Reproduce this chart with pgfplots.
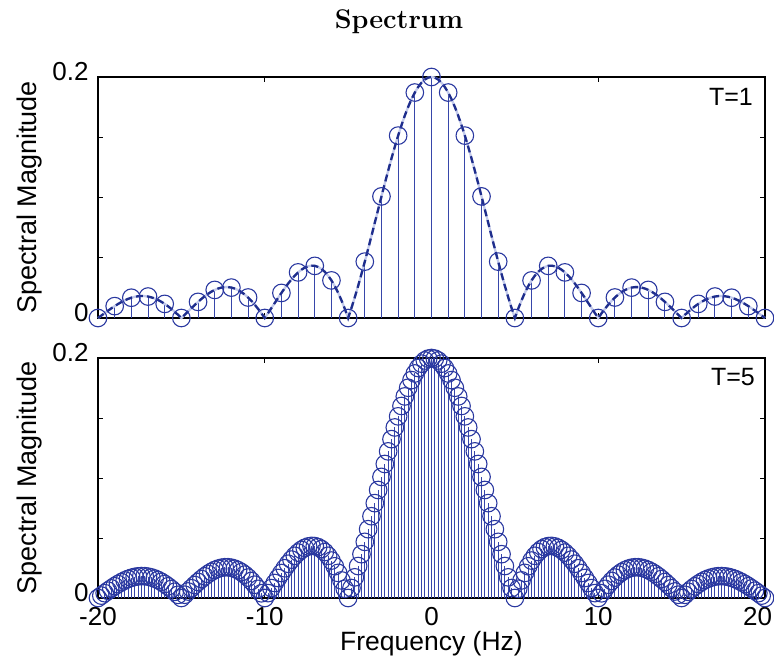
\documentclass[border=0pt]{standalone}
\usepackage{pgfplots}
\pgfplotsset{compat=1.18}
\usepackage{pgfplotstable}
\usepackage{fontspec}
\newfontfamily\lsans{Liberation Sans}
\definecolor{mk}{RGB}{42,56,160}
\definecolor{st}{RGB}{55,70,170}
\definecolor{dk}{RGB}{30,45,140}
\definecolor{lt}{RGB}{195,202,235}

\pgfplotstableread{
f v
-20 0
-19 0.00985
-18 0.01682
-17 0.01781
-16 0.01169
-15 0
-14 0.01336
-13 0.02329
-12 0.02523
-11 0.01701
-10 0
-9 0.02079
-8 0.03784
-7 0.04325
-6 0.03118
-5 0
-4 0.04678
-3 0.10091
-2 0.15137
-1 0.18710
0 0.2
1 0.18710
2 0.15137
3 0.10091
4 0.04678
5 0
6 0.03118
7 0.04325
8 0.03784
9 0.02079
10 0
11 0.01701
12 0.02523
13 0.02329
14 0.01336
15 0
16 0.01169
17 0.01781
18 0.01682
19 0.00985
20 0
}\tabone

\pgfplotstableread{
f v
-20 0
-19.8 0.00201
-19.6 0.00404
-19.4 0.00604
-19.2 0.00799
-19 0.00985
-18.8 0.01159
-18.6 0.01319
-18.4 0.01461
-18.2 0.01583
-18 0.01682
-17.8 0.01757
-17.6 0.01805
-17.4 0.01826
-17.2 0.01818
-17 0.01781
-16.8 0.01714
-16.6 0.01619
-16.4 0.01496
-16.2 0.01345
-16 0.01169
-15.8 0.00971
-15.6 0.00751
-15.4 0.00514
-15.2 0.00262
-15 0
-14.8 0.00270
-14.6 0.00542
-14.4 0.00814
-14.2 0.01080
-14 0.01336
-13.8 0.01579
-13.6 0.01803
-13.4 0.02006
-13.2 0.02182
-13 0.02329
-12.8 0.02443
-12.6 0.02521
-12.4 0.02562
-12.2 0.02563
-12 0.02523
-11.8 0.02441
-11.6 0.02317
-11.4 0.02151
-11.2 0.01946
-11 0.01701
-10.8 0.01420
-10.6 0.01105
-10.4 0.00761
-10.2 0.00391
-10 0
-9.8 0.00407
-9.6 0.00825
-9.4 0.01247
-9.2 0.01667
-9 0.02079
-8.8 0.02476
-8.6 0.02852
-8.4 0.03199
-8.2 0.03512
-8 0.03784
-7.8 0.04009
-7.6 0.04180
-7.4 0.04293
-7.2 0.04343
-7 0.04325
-6.8 0.04236
-6.6 0.04072
-6.4 0.03832
-6.2 0.03514
-6 0.03118
-5.8 0.02644
-5.6 0.02092
-5.4 0.01466
-5.2 0.00767
-5 0
-4.8 0.00831
-4.6 0.01721
-4.4 0.02663
-4.2 0.03651
-4 0.04678
-3.8 0.05734
-3.6 0.06813
-3.4 0.07905
-3.2 0.09001
-3 0.10091
-2.8 0.11167
-2.6 0.12219
-2.4 0.13237
-2.2 0.14212
-2 0.15137
-1.8 0.16001
-1.6 0.16797
-1.4 0.17519
-1.2 0.18158
-1 0.18710
-0.8 0.19168
-0.6 0.19529
-0.4 0.19790
-0.2 0.19947
0 0.2
0.2 0.19947
0.4 0.19790
0.6 0.19529
0.8 0.19168
1 0.18710
1.2 0.18158
1.4 0.17519
1.6 0.16797
1.8 0.16001
2 0.15137
2.2 0.14212
2.4 0.13237
2.6 0.12219
2.8 0.11167
3 0.10091
3.2 0.09001
3.4 0.07905
3.6 0.06813
3.8 0.05734
4 0.04678
4.2 0.03651
4.4 0.02663
4.6 0.01721
4.8 0.00831
5 0
5.2 0.00767
5.4 0.01466
5.6 0.02092
5.8 0.02644
6 0.03118
6.2 0.03514
6.4 0.03832
6.6 0.04072
6.8 0.04236
7 0.04325
7.2 0.04343
7.4 0.04293
7.6 0.04180
7.8 0.04009
8 0.03784
8.2 0.03512
8.4 0.03199
8.6 0.02852
8.8 0.02476
9 0.02079
9.2 0.01667
9.4 0.01247
9.6 0.00825
9.8 0.00407
10 0
10.2 0.00391
10.4 0.00761
10.6 0.01105
10.8 0.01420
11 0.01701
11.2 0.01946
11.4 0.02151
11.6 0.02317
11.8 0.02441
12 0.02523
12.2 0.02563
12.4 0.02562
12.6 0.02521
12.8 0.02443
13 0.02329
13.2 0.02182
13.4 0.02006
13.6 0.01803
13.8 0.01579
14 0.01336
14.2 0.01080
14.4 0.00814
14.6 0.00542
14.8 0.00270
15 0
15.2 0.00262
15.4 0.00514
15.6 0.00751
15.8 0.00971
16 0.01169
16.2 0.01345
16.4 0.01496
16.6 0.01619
16.8 0.01714
17 0.01781
17.2 0.01818
17.4 0.01826
17.6 0.01805
17.8 0.01757
18 0.01682
18.2 0.01583
18.4 0.01461
18.6 0.01319
18.8 0.01159
19 0.00985
19.2 0.00799
19.4 0.00604
19.6 0.00404
19.8 0.00201
20 0
}\tabfive

\pgfplotsset{
  myax/.style={
    scale only axis, width=667pt,
    xmin=-20, xmax=20, ymin=0, ymax=0.2,
    xtick={-20,-10,0,10,20},
    ytick={0,0.05,0.1,0.15,0.2}, yticklabels={0,,,,0.2},
    tick align=inside, major tick length=5pt,
    axis line style={line width=1.1pt},
    every tick/.style={black, line width=0.8pt},
    clip=false,
    every tick label/.append style={font=\lsans\fontsize{26}{30}\selectfont},
    yticklabel style={xshift=-6pt, yshift=5pt},
    xticklabel style={yshift=-6pt},
    ylabel={Spectral Magnitude},
    ylabel style={at={(axis description cs:-0.102,0.5)}, anchor=center,
      font=\lsans\fontsize{27}{30}\selectfont},
  },
  stemst/.style={ycomb, color=st, line width=1pt,
    mark=o, mark size=8.8pt, mark options={color=mk, line width=1.1pt, solid}},
}

\begin{document}
\begin{tikzpicture}
\begin{axis}[myax, at={(98pt,340pt)}, anchor=south west, height=241pt,
  xticklabels={}]
  \addplot[stemst] table[x=f,y=v] {\tabone};
  \addplot[lt, line width=2.3pt, no marks] table[x=f,y=v] {\tabfive};
  \addplot[dk, line width=2.3pt, no marks, dash pattern=on 7pt off 4pt] table[x=f,y=v] {\tabfive};
  \node[anchor=north east, inner sep=0pt, font=\lsans\fontsize{25}{30}\selectfont]
    at (rel axis cs:1,1) [xshift=-12pt, yshift=-11pt] {T=1};
\end{axis}
\begin{axis}[myax, at={(98pt,60pt)}, anchor=south west, height=240pt,
  xticklabels={-20,-10,0,10,\hspace*{-15pt}20},
  xlabel={Frequency (Hz)},
  xlabel style={at={(axis description cs:0.5,-0.2167)}, anchor=base,
    font=\lsans\fontsize{26.5}{30}\selectfont}]
  \addplot[stemst] table[x=f,y=v] {\tabfive};
  \node[anchor=north east, inner sep=0pt, font=\lsans\fontsize{25}{30}\selectfont]
    at (rel axis cs:1,1) [xshift=-10pt, yshift=-10pt] {T=5};
\end{axis}
\node[anchor=base, font=\bfseries\fontsize{27}{30}\selectfont] at (399pt,629pt) {Spectrum};
\pgfresetboundingbox
\path[use as bounding box] (0,0) rectangle (774pt,658pt);
\end{tikzpicture}
\end{document}
